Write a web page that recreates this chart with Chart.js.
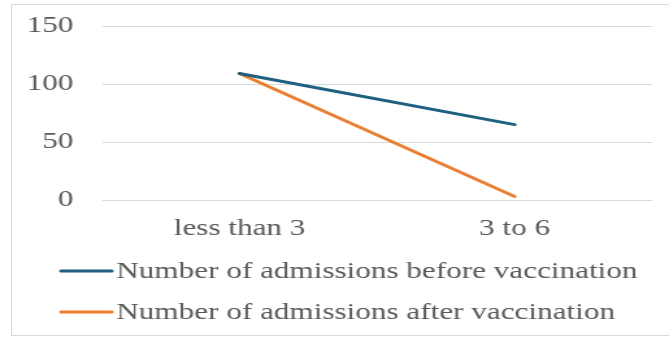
<!DOCTYPE html>
<html>
<head>
<meta charset="utf-8">
<script src="https://cdn.jsdelivr.net/npm/chart.js@4/dist/chart.umd.min.js"></script>
<style>
  html, body { margin: 0; padding: 0; background: #fff; overflow: hidden; }
  body { width: 669px; height: 338px; position: relative; }
  #frame {
    position: absolute; left: 11px; top: 4px; width: 700px; height: 332px;
    border: 1px solid #d9d9d9; box-sizing: border-box;
  }
  /* The drawing is laid out narrow and widened horizontally to the full page width */
  #wrap {
    position: absolute; left: 0; top: 0; width: 515px; height: 338px;
    transform: scaleX(1.299); transform-origin: 0 0;
  }
</style>
</head>
<body>
<div id="frame"></div>
<div id="wrap"><canvas id="chart"></canvas></div>
<script>
// Age groups (years)
const categories = ['less than 3', '3 to 6'];
// Hospital admissions per age group
const admissionsBefore = [109, 65];
const admissionsAfter = [109, 3];
const seriesNames = ['Number of admissions before vaccination', 'Number of admissions after vaccination'];
const yTicks = [0, 50, 100, 150];

const FONT = '"Liberation Serif", "Times New Roman", serif';
const TEXT = '#595959';

// Simple line-sample legend drawn under the axis, one entry per row
const rowLegend = {
  id: 'rowLegend',
  afterDraw(chart) {
    const ctx = chart.ctx;
    ctx.save();
    ctx.font = '24px ' + FONT;
    ctx.textBaseline = 'middle';
    ctx.textAlign = 'left';
    chart.data.datasets.forEach((ds, i) => {
      const y = 271 + i * 41;
      ctx.strokeStyle = ds.borderColor;
      ctx.lineWidth = 3;
      ctx.lineCap = 'round';
      ctx.beginPath();
      ctx.moveTo(47, y);
      ctx.lineTo(86, y);
      ctx.stroke();
      ctx.fillStyle = TEXT;
      ctx.fillText(ds.label, 89.5, y + 1);
    });
    ctx.restore();
  }
};

new Chart(document.getElementById('chart'), {
  type: 'line',
  data: {
    labels: categories,
    datasets: [
      {
        label: seriesNames[0],
        data: admissionsBefore,
        borderColor: '#1f5f7f',
        backgroundColor: '#1f5f7f',
        borderWidth: 3,
        borderCapStyle: 'round',
        pointRadius: 0,
        tension: 0
      },
      {
        label: seriesNames[1],
        data: admissionsAfter,
        borderColor: '#ed7d31',
        backgroundColor: '#ed7d31',
        borderWidth: 3,
        borderCapStyle: 'round',
        pointRadius: 0,
        tension: 0
      }
    ]
  },
  options: {
    responsive: true,
    maintainAspectRatio: false,
    animation: false,
    events: [],
    layout: { padding: { left: 0, right: 13, top: 26, bottom: 98 } },
    plugins: {
      legend: { display: false },
      tooltip: { enabled: false }
    },
    scales: {
      x: {
        offset: true,
        grid: { display: false, drawTicks: false },
        border: { display: false },
        ticks: { font: { family: FONT, size: 24 }, color: TEXT, padding: 14 },
        afterFit(scale) { scale.height = 40; scale.paddingLeft = 0; scale.paddingRight = 0; }
      },
      y: {
        min: 0,
        max: 150,
        afterBuildTicks(scale) { scale.ticks = yTicks.map(v => ({ value: v })); },
        grid: { color: '#d9d9d9', lineWidth: 1, drawTicks: false },
        border: { display: false },
        ticks: { font: { family: FONT, size: 24 }, color: TEXT, padding: 22 },
        afterFit(scale) { scale.width = 78.5; scale.paddingTop = 0; scale.paddingBottom = 0; }
      }
    }
  },
  plugins: [rowLegend]
});
</script>
</body>
</html>
